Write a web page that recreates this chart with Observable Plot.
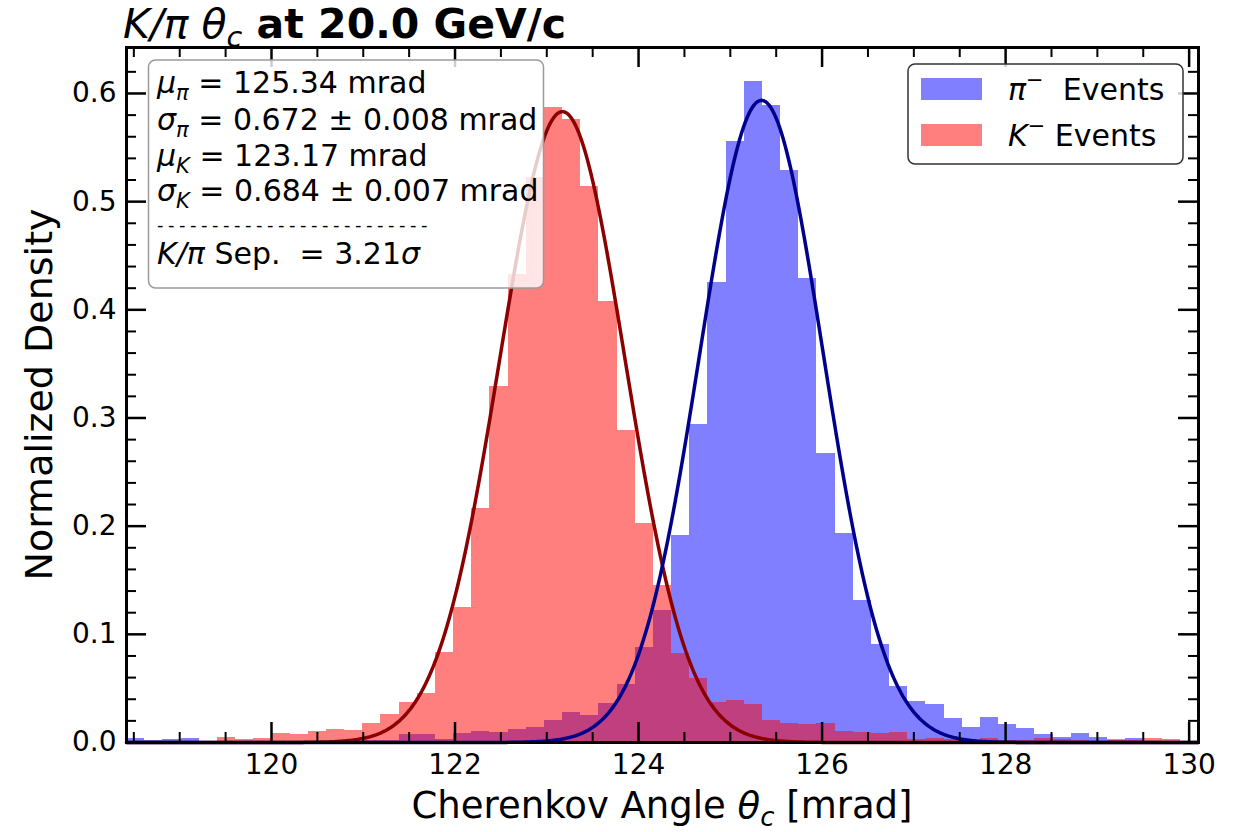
<!DOCTYPE html>
<html><head><meta charset="utf-8">
<script src="https://cdn.jsdelivr.net/npm/d3@7"></script>
<script src="https://cdn.jsdelivr.net/npm/@observablehq/plot@0.6"></script>
<style>body{margin:0;background:#fff} svg{display:block}</style>
</head><body><div id="chart"></div>
<script>
// ---- data ----
const binStart = 118.42;
const binWidth = 0.198;
const piDensity = [0.004,0.002,0.003,0.004,0.000, 0.000,0.001,0.000,0.001,0.001, 0.001,0.000,0.001,0.002,0.002,
  0.007,0.007,0.003,0.008,0.010, 0.009,0.012,0.014,0.020,0.028, 0.025,0.036,0.054,0.088,0.122,
  0.191,0.294,0.425,0.556,0.611, 0.589,0.529,0.429,0.267,0.193, 0.131,0.091,0.052,0.038,0.035,
  0.022,0.014,0.023,0.017,0.013, 0.007,0.005,0.008,0.005,0.002, 0.004,0.001,0.001,0.000];
const kDensity = [0.001,0.001,0.001,0.001,0.000, 0.005,0.003,0.004,0.008,0.007, 0.010,0.012,0.011,0.018,0.026,
  0.037,0.045,0.083,0.125,0.216, 0.329,0.433,0.522,0.587,0.576, 0.514,0.408,0.288,0.202,0.145,
  0.082,0.059,0.037,0.039,0.035, 0.020,0.018,0.017,0.018,0.010, 0.009,0.008,0.009,0.003,0.004,
  0.003,0.002,0.004,0.002,0.002, 0.004,0.003,0.002,0.001,0.003, 0.002,0.004,0.003,0.001];
const fitPi = {mu: 125.34, sigma: 0.672};
const fitK = {mu: 123.17, sigma: 0.684};
const xMajorTicks = [120, 122, 124, 126, 128, 130];
const yMajorTicks = [0, 0.1, 0.2, 0.3, 0.4, 0.5, 0.6];
const titleMain = " at 20.0 GeV/c";
const xLabel = "Cherenkov Angle ";
const yLabel = "Normalized Density";

// ---- build ----
const W = 1235, H = 832, mL = 126, mR = 37, mT = 47, mB = 90;
const pw = W - mL - mR, ph = H - mT - mB;
const nb = piDensity.length;
const xMax = binStart + binWidth * nb;
const bins = piDensity.map((p, i) => ({x1: binStart + i * binWidth, x2: binStart + (i + 1) * binWidth, pi: p, k: kDensity[i]}));
const gauss = (f) => d3.range(binStart, xMax, 0.02).map(x => ({x, y: Math.exp(-0.5 * ((x - f.mu) / f.sigma) ** 2) / (f.sigma * Math.sqrt(2 * Math.PI))}));
const xMinor = d3.range(118.5, 130.01, 0.5).filter(v => Math.abs(v - Math.round(v / 2) * 2) > 1e-6);
const yMinor = d3.range(0.02, 0.64, 0.02).filter(v => Math.abs(v * 10 - Math.round(v * 10)) > 1e-6);
const FONT = "DejaVu Sans";

const chart = Plot.plot({
  width: W, height: H, marginLeft: mL, marginRight: mR, marginTop: mT, marginBottom: mB,
  style: {fontFamily: FONT, fontSize: "28px", color: "black", background: "white"},
  x: {domain: [binStart, xMax]},
  y: {domain: [0, 0.6425]},
  marks: [
    Plot.rectY(bins, {x1: "x1", x2: "x2", y: "pi", fill: "#0000ff", fillOpacity: 0.5, shapeRendering: "crispEdges"}),
    Plot.rectY(bins, {x1: "x1", x2: "x2", y: "k", fill: "#ff0000", fillOpacity: 0.5, shapeRendering: "crispEdges"}),
    Plot.line(gauss(fitK), {x: "x", y: "y", stroke: "#8b0000", strokeWidth: 3.5}),
    Plot.line(gauss(fitPi), {x: "x", y: "y", stroke: "#00008b", strokeWidth: 3.5}),
    Plot.tickX(xMajorTicks, {x: d => d, insetTop: ph - 20, stroke: "black", strokeWidth: 2.5}),
    Plot.tickX(xMajorTicks, {x: d => d, insetBottom: ph - 20, stroke: "black", strokeWidth: 2.5}),
    Plot.tickX(xMinor, {x: d => d, insetTop: ph - 10, stroke: "black", strokeWidth: 2}),
    Plot.tickX(xMinor, {x: d => d, insetBottom: ph - 10, stroke: "black", strokeWidth: 2}),
    Plot.tickY(yMajorTicks, {y: d => d, insetRight: pw - 20, stroke: "black", strokeWidth: 2.5}),
    Plot.tickY(yMajorTicks, {y: d => d, insetLeft: pw - 20, stroke: "black", strokeWidth: 2.5}),
    Plot.tickY(yMinor, {y: d => d, insetRight: pw - 10, stroke: "black", strokeWidth: 2}),
    Plot.tickY(yMinor, {y: d => d, insetLeft: pw - 10, stroke: "black", strokeWidth: 2}),
    Plot.axisX({ticks: xMajorTicks, tickSize: 0, tickPadding: 12, tickFormat: d => String(d), fontSize: 28, label: null}),
    Plot.axisY({ticks: yMajorTicks, tickSize: 0, tickPadding: 10, tickFormat: ".1f", fontSize: 28, label: null}),
    Plot.frame({stroke: "black", strokeWidth: 3})
  ]
});
document.getElementById("chart").appendChild(chart);

const svg = d3.select(chart);
function rich(g, x, y, parts, size, opts = {}) {
  const t = g.append("text").attr("x", x).attr("y", y).attr("font-size", size)
    .attr("text-anchor", opts.anchor || "start").attr("font-family", FONT).attr("fill", "black")
    .style("white-space", "pre");
  if (opts.transform) t.attr("transform", opts.transform);
  if (opts.letterSpacing) t.attr("letter-spacing", opts.letterSpacing);
  let shift = 0;
  for (const p of parts) {
    const target = p.sub ? size * 0.22 : p.sup ? -size * 0.42 : 0;
    const s = t.append("tspan").text(p.t);
    if (target - shift !== 0) s.attr("dy", target - shift);
    shift = target;
    if (p.sub || p.sup) s.attr("font-size", size * 0.7);
    if (p.i) s.attr("font-style", "italic");
    if (p.b) s.attr("font-weight", "bold");
  }
  return t;
}
// title
rich(svg, 123, 38, [{t: "K/π θ", i: true}, {t: "c", i: true, sub: true}, {t: titleMain, b: true}], 41);
// axis labels
rich(svg, mL + pw / 2, 818, [{t: xLabel}, {t: "θ", i: true}, {t: "c", i: true, sub: true}, {t: " [mrad]"}], 37, {anchor: "middle"});
rich(svg, 0, 0, [{t: yLabel}], 38, {anchor: "middle", transform: `translate(52,${mT + ph / 2}) rotate(-90)`});

// stats box
const g = svg.append("g");
g.append("rect").attr("x", 148.5).attr("y", 60).attr("width", 395).attr("height", 228).attr("rx", 7)
  .attr("fill", "white").attr("fill-opacity", 0.8).attr("stroke", "#9a9a9a").attr("stroke-width", 1.5);
const fs = 30, sx = 157;
rich(g, sx, 93, [{t: "μ", i: true}, {t: "π", i: true, sub: true}, {t: " = " + fitPi.mu.toFixed(2) + " mrad"}], fs);
rich(g, sx, 130, [{t: "σ", i: true}, {t: "π", i: true, sub: true}, {t: " = " + fitPi.sigma.toFixed(3) + " ± 0.008 mrad"}], fs);
rich(g, sx, 166, [{t: "μ", i: true}, {t: "K", i: true, sub: true}, {t: " = " + fitK.mu.toFixed(2) + " mrad"}], fs);
rich(g, sx, 201, [{t: "σ", i: true}, {t: "K", i: true, sub: true}, {t: " = " + fitK.sigma.toFixed(3) + " ± 0.007 mrad"}], fs);
rich(g, sx, 231, [{t: "-------------------------"}], 18, {letterSpacing: 4.5});
rich(g, sx, 264, [{t: "K/π", i: true}, {t: " Sep.  = 3.21"}, {t: "σ", i: true}], fs);

// legend
const lg = svg.append("g");
lg.append("rect").attr("x", 908).attr("y", 64).attr("width", 275).attr("height", 100).attr("rx", 7)
  .attr("fill", "white").attr("fill-opacity", 0.8).attr("stroke", "#333").attr("stroke-width", 1.5);
lg.append("rect").attr("x", 921).attr("y", 78).attr("width", 61).attr("height", 22).attr("fill", "#0000ff").attr("fill-opacity", 0.5);
lg.append("rect").attr("x", 921).attr("y", 124).attr("width", 61).attr("height", 22).attr("fill", "#ff0000").attr("fill-opacity", 0.5);
rich(lg, 1008, 100, [{t: "π", i: true}, {t: "−", sup: true}, {t: "  Events"}], fs);
rich(lg, 1008, 146, [{t: "K", i: true}, {t: "−", sup: true}, {t: " Events"}], fs);
</script></body></html>
